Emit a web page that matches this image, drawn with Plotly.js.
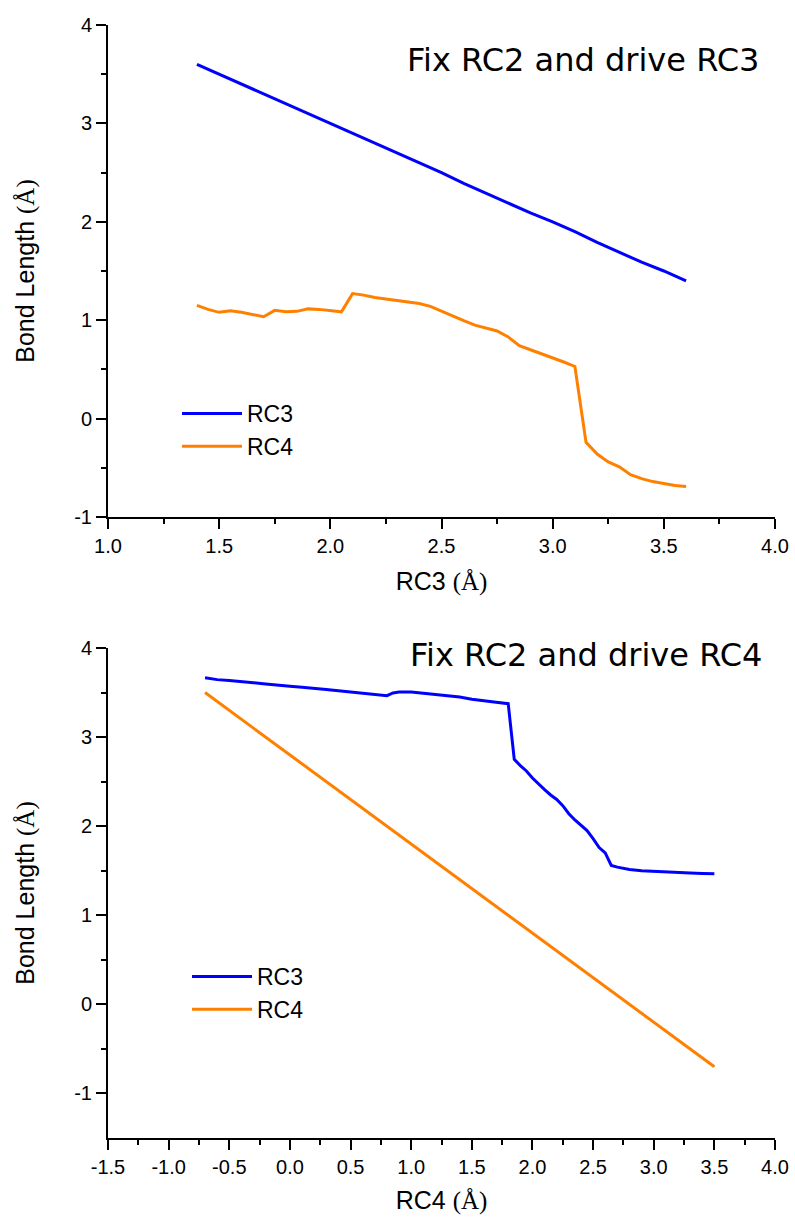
<!DOCTYPE html>
<html>
<head>
<meta charset="utf-8">
<script src="https://cdn.plot.ly/plotly-3.0.1.min.js"></script>
<style>html,body{margin:0;padding:0;background:#fff}#chart{width:795px;height:1222px}</style>
</head>
<body>
<div id="chart"></div>
<script>
// ---- Top panel: Fix RC2 and drive RC3 ----
const topRC3x = [1.4,1.5,1.6,1.7,1.8,1.9,2.0,2.1,2.2,2.3,2.4,2.5,2.6,2.7,2.8,2.9,3.0,3.1,3.2,3.3,3.4,3.5,3.6];
const topRC3y = [3.60,3.50,3.40,3.30,3.20,3.10,3.00,2.90,2.80,2.70,2.60,2.50,2.39,2.29,2.19,2.09,2.00,1.90,1.79,1.69,1.59,1.50,1.40];
const topRC4x = [1.4,1.45,1.5,1.55,1.6,1.65,1.7,1.75,1.8,1.85,1.9,1.95,2.0,2.05,2.1,2.15,2.2,2.25,2.3,2.35,2.4,2.45,2.5,2.55,2.6,2.65,2.7,2.75,2.8,2.85,2.9,2.95,3.0,3.05,3.1,3.15,3.2,3.25,3.3,3.35,3.4,3.45,3.5,3.55,3.6];
const topRC4y = [1.15,1.11,1.08,1.095,1.08,1.055,1.035,1.10,1.085,1.09,1.115,1.11,1.10,1.085,1.27,1.255,1.23,1.215,1.20,1.19,1.17,1.14,1.09,1.04,0.995,0.95,0.92,0.89,0.83,0.74,0.70,0.66,0.62,0.575,0.53,-0.24,-0.36,-0.44,-0.49,-0.57,-0.61,-0.64,-0.66,-0.68,-0.69];

// ---- Bottom panel: Fix RC2 and drive RC4 ----
const botRC3x = [-0.7,-0.6,-0.5,-0.4,-0.3,-0.2,-0.1,0.0,0.1,0.2,0.3,0.4,0.5,0.6,0.7,0.8,0.85,0.9,1.0,1.1,1.2,1.3,1.4,1.5,1.6,1.7,1.8,1.85,1.9,1.95,2.0,2.05,2.1,2.15,2.2,2.25,2.3,2.35,2.4,2.45,2.5,2.55,2.6,2.65,2.7,2.75,2.8,2.9,3.0,3.1,3.2,3.3,3.4,3.5];
const botRC3y = [3.665,3.645,3.635,3.625,3.61,3.595,3.58,3.57,3.56,3.55,3.535,3.52,3.505,3.49,3.475,3.465,3.495,3.505,3.505,3.49,3.475,3.46,3.45,3.425,3.405,3.39,3.375,2.75,2.68,2.62,2.54,2.47,2.41,2.35,2.30,2.23,2.14,2.07,2.01,1.95,1.86,1.76,1.70,1.56,1.54,1.525,1.515,1.50,1.492,1.485,1.48,1.475,1.47,1.467];
const botRC4x = [-0.7,-0.5,0.0,0.5,1.0,1.5,2.0,2.5,3.0,3.5];
const botRC4y = [3.5,3.3,2.8,2.3,1.8,1.3,0.8,0.3,-0.2,-0.7];

// ---- Tick labels ----
const topXTicks = [1.0,1.5,2.0,2.5,3.0,3.5,4.0];
const topXTickText = ['1.0','1.5','2.0','2.5','3.0','3.5','4.0'];
const topXMinor = [1.25,1.75,2.25,2.75,3.25,3.75];
const botXTicks = [-1.5,-1.0,-0.5,0.0,0.5,1.0,1.5,2.0,2.5,3.0,3.5,4.0];
const botXTickText = ['-1.5','-1.0','-0.5','0.0','0.5','1.0','1.5','2.0','2.5','3.0','3.5','4.0'];
const botXMinor = [-1.25,-0.75,-0.25,0.25,0.75,1.25,1.75,2.25,2.75,3.25,3.75];
const yTicks = [-1,0,1,2,3,4];
const yTickText = ['-1','0','1','2','3','4'];
const yMinor = [-0.5,0.5,1.5,2.5,3.5];

const seriesNames = ['RC3','RC4'];
const titles = ['Fix RC2 and drive RC3','Fix RC2 and drive RC4'];

const BLUE = '#0000ff', ORANGE = '#ff8000';
const FONT = 'Liberation Sans, Arial, sans-serif';
const ANG = '<span style="font-family:Liberation Serif, Times New Roman, serif">(Å)</span>';

const traces = [
  {x: topRC3x, y: topRC3y, name: seriesNames[0], xaxis:'x', yaxis:'y', legend:'legend', mode:'lines', line:{color:BLUE, width:3}},
  {x: topRC4x, y: topRC4y, name: seriesNames[1], xaxis:'x', yaxis:'y', legend:'legend', mode:'lines', line:{color:ORANGE, width:3}},
  {x: botRC3x, y: botRC3y, name: seriesNames[0], xaxis:'x2', yaxis:'y2', legend:'legend2', mode:'lines', line:{color:BLUE, width:3}},
  {x: botRC4x, y: botRC4y, name: seriesNames[1], xaxis:'x2', yaxis:'y2', legend:'legend2', mode:'lines', line:{color:ORANGE, width:3}}
];

function axisBase() {
  return {
    showline:true, linecolor:'#000', linewidth:2, mirror:false,
    ticks:'outside', ticklen:10, tickwidth:2, tickcolor:'#000',
    showgrid:false, zeroline:false, fixedrange:true,
    tickfont:{family:FONT, size:20, color:'#000'},
    tickmode:'array'
  };
}
const XDOM = [108/795, 775/795];
const TITLEFONT = {family:FONT, size:25, color:'#000'};
const minorStyle = {ticks:'outside', ticklen:5, tickwidth:2, tickcolor:'#000', showgrid:false};

const layout = {
  width:795, height:1222,
  margin:{l:0, r:0, t:0, b:0},
  paper_bgcolor:'#fff', plot_bgcolor:'#fff',
  font:{family:FONT, color:'#000'},
  showlegend:true,
  xaxis: Object.assign(axisBase(), {
    domain:XDOM, anchor:'y', range:[1,4],
    tickvals:topXTicks, ticktext:topXTickText,
    minor:Object.assign({tickvals:topXMinor}, minorStyle),
    title:{text:'RC3 ' + ANG, font:TITLEFONT, standoff:16}
  }),
  yaxis: Object.assign(axisBase(), {
    domain:[1-517/1222, 1-25/1222], anchor:'x', range:[-1,4],
    tickvals:yTicks, ticktext:yTickText,
    minor:Object.assign({tickvals:yMinor}, minorStyle),
    title:{text:'Bond Length ' + ANG, font:TITLEFONT, standoff:32}
  }),
  xaxis2: Object.assign(axisBase(), {
    domain:XDOM, anchor:'y2', range:[-1.5,4],
    tickvals:botXTicks, ticktext:botXTickText,
    minor:Object.assign({tickvals:botXMinor}, minorStyle),
    title:{text:'RC4 ' + ANG, font:TITLEFONT, standoff:14}
  }),
  yaxis2: Object.assign(axisBase(), {
    domain:[1-1138/1222, 1-648/1222], anchor:'x2', range:[-1.5,4],
    tickvals:yTicks, ticktext:yTickText,
    minor:Object.assign({tickvals:yMinor}, minorStyle),
    title:{text:'Bond Length ' + ANG, font:TITLEFONT, standoff:32}
  }),
  legend: {
    x:177/795, y:1-392/1222, xanchor:'left', yanchor:'top',
    bgcolor:'rgba(0,0,0,0)', borderwidth:0,
    font:{family:FONT, size:23, color:'#000'},
    itemwidth:60
  },
  legend2: {
    x:187/795, y:1-955/1222, xanchor:'left', yanchor:'top',
    bgcolor:'rgba(0,0,0,0)', borderwidth:0,
    font:{family:FONT, size:23, color:'#000'},
    itemwidth:60
  },
  annotations: [
    {text:titles[0], xref:'paper', yref:'paper', x:583/795, y:1-60/1222, xanchor:'center', yanchor:'middle',
     showarrow:false, font:{family:'DejaVu Sans, Noto Sans, sans-serif', size:32, color:'#000'}},
    {text:titles[1], xref:'paper', yref:'paper', x:586/795, y:1-655/1222, xanchor:'center', yanchor:'middle',
     showarrow:false, font:{family:'DejaVu Sans, Noto Sans, sans-serif', size:32, color:'#000'}}
  ]
};

Plotly.newPlot('chart', traces, layout, {displayModeBar:false, staticPlot:true});
</script>
</body>
</html>
